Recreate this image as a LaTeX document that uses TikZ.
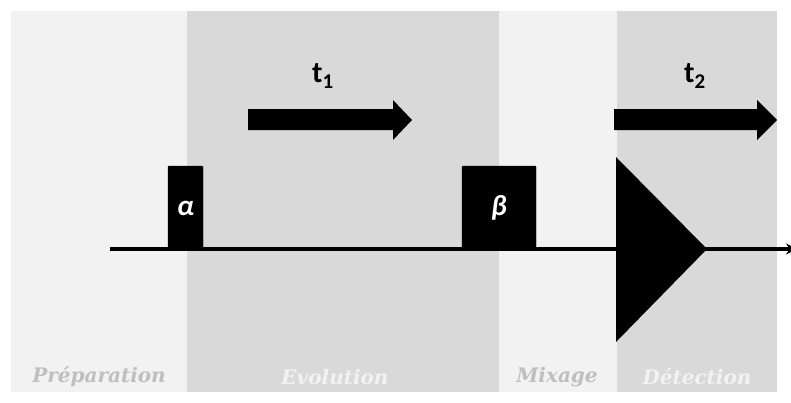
\documentclass[tikz,border=0pt]{standalone}
\usepackage{fontspec}
\setmainfont{Carlito}
\newfontfamily\stagefont{DejaVu Serif}
\usetikzlibrary{arrows.meta}
\definecolor{bandlight}{HTML}{F2F2F2}
\definecolor{banddark}{HTML}{D9D9D9}
\definecolor{labelgray}{HTML}{BFBFBF}
\tikzset{
  band/.style={fill=#1, draw=none},
  stagelabel/.style={font=\stagefont\bfseries\itshape\fontsize{20}{20}\selectfont, text=#1},
  pulse/.style={fill=black, rounded corners=1pt},
  pulselabel/.style={text=white, font=\bfseries\itshape\fontsize{29}{29}\selectfont},
  timelabel/.style={font=\bfseries\fontsize{30}{30}\selectfont},
}

\begin{document}
\begin{tikzpicture}[x=1pt, y=-1pt]
		%%%%% START %%%%%
		\useasboundingbox (0, 0) rectangle (791, 402);
		
		% periods
		\fill[band=bandlight] (11, 11) rectangle (187, 392);
		\fill[band=banddark] (187, 11) rectangle (499, 392);
		\fill[band=bandlight] (499, 11) rectangle (617, 392);
		\fill[band=banddark] (617, 11) rectangle (777, 392);
		
		\node[stagelabel=labelgray] (prep) at (99, 377) {Préparation};
		\node[stagelabel=bandlight] (evol) at (335, 377) {Evolution};
		\node[stagelabel=labelgray] (mix) at (557, 377) {Mixage};
		\node[stagelabel=bandlight] (det) at (697, 377) {Détection};
		
		% time axis
		\coordinate (start) at (110, 249);
		\coordinate (stop) at (797, 249);
		\draw[line width=3.5pt, -{Stealth[length=11pt, width=11pt]}] (start) -- (stop);
		
		% pulses
		\draw[pulse] (168, 249) rectangle (203, 166);
		\node[pulselabel] (alpha) at (185.5, 208) {α};
		\draw[pulse] (462, 249) rectangle (536, 166);
		\node[pulselabel] (beta) at (499, 208) {β};
		
		% acquisition
		\fill (616, 157) -- (707, 249) -- (616, 342) -- cycle;
		
		% delays
		\fill (248, 109) -- (393, 109) -- (393, 100) -- (412, 120) -- (393, 140) -- (393, 130) -- (248, 130) -- cycle;
		\node[timelabel] (tone) at (323, 76) {t\textsubscript{1}};
		\fill (614, 109) -- (757, 109) -- (757, 100) -- (777, 120) -- (757, 140) -- (757, 130) -- (614, 130) -- cycle;
		\node[timelabel] (ttwo) at (695, 76) {t\textsubscript{2}};
		
		%%%%% END %%%%%
	\end{tikzpicture}
\end{document}
